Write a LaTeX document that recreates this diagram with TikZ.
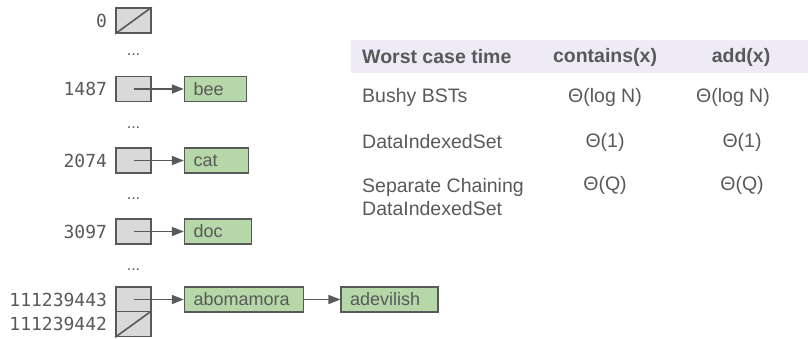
\documentclass[tikz,border=0pt]{standalone}
\usepackage{fontspec}
\setmainfont{Liberation Sans}
\setmonofont{DejaVu Sans Mono}
\usetikzlibrary{arrows.meta,positioning}
\definecolor{linegray}{HTML}{595959}
\definecolor{cellgray}{HTML}{D9D9D9}
\definecolor{leafgreen}{HTML}{B6D7A8}
\definecolor{headband}{HTML}{EEEBF7}
\definecolor{textgray}{HTML}{595959}
\tikzset{
  bucket/.style={draw=linegray, fill=cellgray, line width=1.6pt, minimum width=35pt, minimum height=25pt, inner sep=0pt},
  item/.style={draw=linegray, fill=leafgreen, line width=1.6pt, minimum height=25pt, inner xsep=9pt, inner ysep=0pt, align=left, text=textgray, font=\fontsize{18}{20}\selectfont},
  idx/.style={inner sep=0pt, text=textgray, font=\ttfamily\fontsize{18}{20}\selectfont},
  link/.style={draw=linegray, line width=1.6pt, -{Triangle[length=12pt,width=9pt]}},
  dots/.style={anchor=base, text=textgray, font=\fontsize{16}{18}\selectfont},
  cell/.style={inner sep=0pt, text=textgray, font=\fontsize{19.5}{23}\selectfont}
}
\begin{document}
\begin{tikzpicture}[x=1pt,y=-1pt]
\useasboundingbox (0,0) rectangle (808,338);
% Set the bucket column
\def\colx{133.5}

% Buckets and their labels
\node[bucket] (b0) at (\colx,20.5) {};
\draw[linegray, line width=1.6pt] (b0.south west) -- (b0.north east);
\node[idx, left=8pt of b0] (l0) {0};
\node[dots] (d1) at (\colx,55) {...};
\node[bucket] (b1487) at (\colx,89) {};
\node[idx, left=8pt of b1487] (l1487) {1487};
\node[dots] (d2) at (\colx,128) {...};
\node[bucket] (b2074) at (\colx,160.5) {};
\node[idx, left=8pt of b2074] (l2074) {2074};
\node[dots] (d3) at (\colx,199) {...};
\node[bucket] (b3097) at (\colx,231.5) {};
\node[idx, left=8pt of b3097] (l3097) {3097};
\node[dots] (d4) at (\colx,270) {...};
\node[bucket] (b443) at (\colx,299.5) {};
\node[idx, left=8pt of b443] (l443) {111239443};
\node[bucket] (b442) at (\colx,324) {};
\draw[linegray, line width=1.6pt] (b442.south west) -- (b442.north east);
\node[idx, left=8pt of b442] (l442) {111239442};

% Chained items
\node[item, text width=44pt, right=32pt of b1487] (bee) {bee};
\node[item, text width=46pt, right=32pt of b2074] (cat) {cat};
\node[item, text width=49pt, right=32pt of b3097] (doc) {doc};
\node[item, text width=101pt, right=32pt of b443] (abo) {abomamora};
\node[item, text width=79pt, right=36pt of abo] (ade) {adevilish};
\draw[link] (b1487.center) -- (bee);
\draw[link] (b2074.center) -- (cat);
\draw[link] (b3097.center) -- (doc);
\draw[link] (b443.center) -- (abo);
\draw[link] (abo) -- (ade);

% Runtime table
\fill[headband] (351,40) rectangle (808,73);
\node[cell, anchor=west, font=\bfseries\fontsize{19.5}{23}\selectfont] (h1) at (362,57) {Worst case time};
\node[cell, font=\bfseries\fontsize{19.5}{23}\selectfont] (h2) at (605,57) {contains(x)};
\node[cell, font=\bfseries\fontsize{19.5}{23}\selectfont] (h3) at (741,57) {add(x)};
\node[cell, anchor=west] (r1) at (362,97) {Bushy BSTs};
\node[cell] (r1a) at (605,97) {Θ(log N)};
\node[cell] (r1b) at (733,97) {Θ(log N)};
\node[cell, anchor=west] (r2) at (362,142) {DataIndexedSet};
\node[cell] (r2a) at (605,142) {Θ(1)};
\node[cell] (r2b) at (742,142) {Θ(1)};
\node[cell, anchor=west, align=left] (r3) at (362,197) {Separate Chaining\\DataIndexedSet};
\node[cell] (r3a) at (605,185) {Θ(Q)};
\node[cell] (r3b) at (742,185) {Θ(Q)};
\end{tikzpicture}
\end{document}
